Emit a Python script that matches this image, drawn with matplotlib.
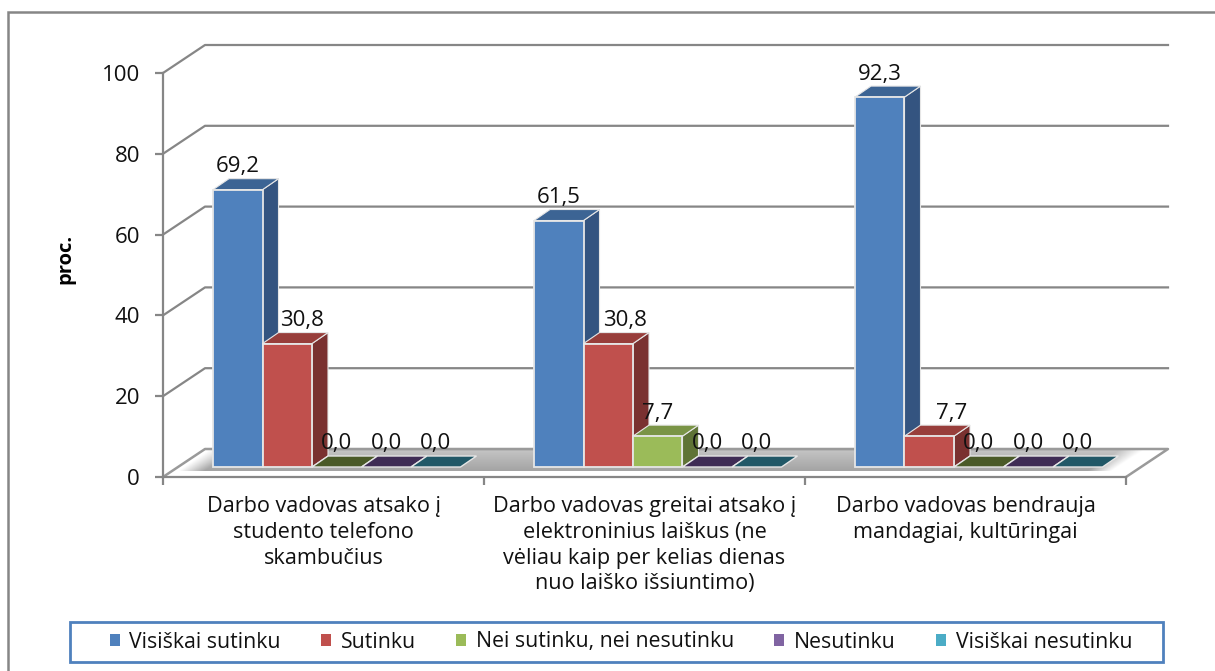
import numpy as np
import matplotlib
matplotlib.use("Agg")
import matplotlib.pyplot as plt
from matplotlib.patches import Polygon, Rectangle

categories = ["Darbo vadovas atsako į\nstudento telefono\nskambučius",
              "Darbo vadovas greitai atsako į\nelektroninius laiškus (ne\nvėliau kaip per kelias dienas\nnuo laiško išsiuntimo)",
              "Darbo vadovas bendrauja\nmandagiai, kultūringai"]
series = ["Visiškai sutinku", "Sutinku", "Nei sutinku, nei nesutinku", "Nesutinku", "Visiškai nesutinku"]
visiskai_sutinku = [69.2, 61.5, 92.3]
sutinku = [30.8, 30.8, 7.7]
nei = [0.0, 7.7, 0.0]
nesutinku = [0.0, 0.0, 0.0]
visiskai_nesutinku = [0.0, 0.0, 0.0]
values = [visiskai_sutinku, sutinku, nei, nesutinku, visiskai_nesutinku]
yticks = [0, 20, 40, 60, 80, 100]

front = ["#4F81BD", "#C0504D", "#9BBB59", "#8064A2", "#4BACC6"]
top_c = ["#3C6494", "#983E3B", "#7A9446", "#42305A", "#2A6070"]
side_c = ["#345480", "#7A3130", "#5F7336", "#3F3151", "#215867"]
zero_c = ["#3C6494", "#983E3B", "#4A5A28", "#3F2C55", "#215867"]
GRID = "#868686"
EDGE = "#E6E6E6"
FS = 16
plt.rcParams["font.family"] = ["Open Sans", "DejaVu Sans"]

W, H = 1215, 671
fig = plt.figure(figsize=(W / 100, H / 100), dpi=100)
L, R, B, T = 163, 1126, 477, 73
ax = fig.add_axes([L / W, 1 - B / H, (R - L) / W, (B - T) / H])
ax.set_xlim(0, 3)
ax.set_ylim(0, 100)
ax.patch.set_alpha(0)
px = 3 / (R - L)          # data units per pixel, x
py = 100 / (B - T)        # data units per pixel, y

# outer chart frame (runs off the right and bottom of the image)
fig.add_artist(Rectangle((8 / W, -0.05), 1.1, 1 - 12 / H + 0.05, transform=fig.transFigure,
                         fc="white", ec=GRID, lw=1.8, zorder=-5))

# walls
DX, DY = 42 * px, 28 * py
for t in yticks[1:]:
    ax.plot([0, DX, 3 + DX], [t, t + DY, t + DY], color=GRID, lw=1.6, clip_on=False, zorder=1)
ax.plot([0, DX, 3 + DX, 3], [0, DY, DY, 0], color="#9A9A9A", lw=1.8, clip_on=False, zorder=1)

# floor shadow, sheared along the floor's depth direction
ny, nx = 60, 900
x_pix = np.linspace(160, 1170, nx)
y_frac = np.linspace(0, 1, ny)          # 0 = y 471 px, 1 = y 450 px
alpha = np.zeros((ny, nx))
for r, f in enumerate(y_frac):
    left = 178 + 30 * f
    right = 1112 + 32 * f
    fade = np.clip((x_pix - left) / 26, 0, 1) * np.clip((right - x_pix) / 24, 0, 1)
    alpha[r] = fade * (0.62 - 0.22 * f)
rgba = np.zeros((ny, nx, 4))
rgba[..., :3] = 0.42
rgba[..., 3] = alpha
floor = Polygon([[0, 0], [DX, DY], [3 + DX, DY], [3, 0]], closed=True, transform=ax.transData)
im = ax.imshow(rgba, extent=[(160 - L) * px, (1170 - L) * px, 6 * py, 27 * py], origin="lower",
               aspect="auto", zorder=1.5, interpolation="bilinear")
im.set_clip_path(floor)
im.set_clip_box(fig.bbox)
ax.set_xlim(0, 3)
ax.set_ylim(0, 100)

# bars: the bars' plane sits part-way back, so it is scaled slightly
bw = 49.5 * px
gap = 37 * px
bx0, by0 = 13 * px, 10 * py
ddx, ddy = 16 * px, 11 * py
plane_scale = 0.992
label_dx = [[0, 0, 0], [15, 17, 22], [0, 0, 0], [0, 0, 0], [0, 0, 0]]
for i, (vals, name) in enumerate(zip(values, series)):
    for c, v in enumerate(vals):
        x0 = c + bx0 + gap + i * bw
        x1 = x0 + bw
        y0 = by0
        y1 = by0 + v * plane_scale
        z = 3 + i * 0.5
        if v > 0:
            ax.add_patch(Polygon([[x1, y0], [x1 + ddx, y0 + ddy], [x1 + ddx, y1 + ddy], [x1, y1]],
                                 fc=side_c[i], ec=EDGE, lw=0.8, clip_on=False, zorder=z))
            ax.add_patch(Polygon([[x0, y1], [x0 + ddx, y1 + ddy], [x1 + ddx, y1 + ddy], [x1, y1]],
                                 fc=top_c[i], ec=EDGE, lw=0.8, clip_on=False, zorder=z))
            ax.add_patch(Rectangle((x0, y0), bw, v * plane_scale, fc=front[i], ec=EDGE, lw=1.3,
                                   clip_on=False, zorder=z + 0.01))
        else:
            ax.add_patch(Polygon([[x0, y0], [x0 + ddx, y0 + ddy], [x1 + ddx, y0 + ddy], [x1, y0]],
                                 fc=zero_c[i], ec=EDGE, lw=1.0, clip_on=False, zorder=z))
        ax.text(x0 + bw / 2 + label_dx[i][c] * px, y1 + 23 * py, f"{v:.1f}".replace(".", ","),
                ha="center", va="center", fontsize=FS, color="#111111", zorder=20, clip_on=False)

# axes
for s in ["top", "right"]:
    ax.spines[s].set_visible(False)
for s in ["left", "bottom"]:
    ax.spines[s].set_color(GRID)
    ax.spines[s].set_linewidth(1.6)
ax.set_yticks(yticks)
ax.set_xticks([0, 1, 2, 3])
ax.set_xticklabels([])
ax.tick_params(axis="both", color=GRID, width=1.6, length=5.5)
ax.tick_params(axis="y", labelsize=FS, pad=11, labelcolor="#111111")
for c, lab in enumerate(categories):
    ax.text(c + 0.5, -19 * py, lab, ha="center", va="top", fontsize=15.6,
            color="#111111", linespacing=1.3, clip_on=False)
fig.text(65 / W, 1 - 259 / H, "proc.", rotation=90, ha="center", va="center", fontsize=14.5, fontweight="bold")

# legend
fig.add_artist(Rectangle((70 / W, 1 - 662 / H), 1093 / W, 40 / H, transform=fig.transFigure,
                         fc="white", ec="#4F81BD", lw=2, zorder=-1))
handles = [Rectangle((0, 0), 1, 1, fc=c, ec="none") for c in front]
leg = fig.legend(handles, series, ncol=5, loc="center", bbox_to_anchor=(621 / W, 1 - 642 / H),
                 fontsize=15.3, frameon=False,
                 handlelength=0.47, handleheight=0.47, handletextpad=0.45, columnspacing=1.9,
                 borderpad=0.2, labelcolor="#111111")

fig.savefig("out.png", dpi=100)
